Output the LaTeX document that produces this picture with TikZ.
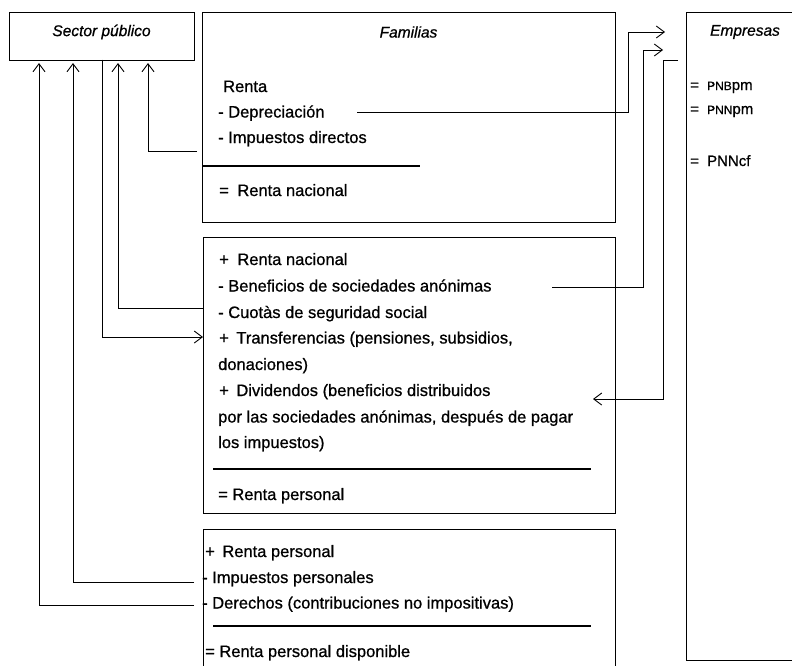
\documentclass[tikz,border=0pt]{standalone}
\usepackage{fontspec}
\setmainfont[FakeBold=0.8]{Liberation Sans}
\usetikzlibrary{arrows.meta}
\begin{document}
\begin{tikzpicture}[x=1pt,y=-1pt,
  box/.style={draw, line width=0.7pt, inner sep=0pt, anchor=north west},
  txt/.style={anchor=base west, inner sep=0pt, font=\fontsize{16.5}{20}\selectfont},
  etxt/.style={anchor=base west, inner sep=0pt, font=\fontsize{15}{18}\selectfont},
  ttl/.style={inner sep=0pt, font=\fontsize{15.5}{18}\selectfont\itshape},
  conn/.style={line width=0.9pt},
  arr/.style={conn, -{Straight Barb[length=8pt,width=12pt,line width=0.9pt]}},
  rulebar/.style={line width=2pt}]
\useasboundingbox (0,0) rectangle (792,665);

% boxes
\node[box, minimum width=185pt, minimum height=47.5pt] (sp) at (9,12) {};
\node[ttl] (spt) at (101.5,32) {Sector público};
\node[box, minimum width=413pt, minimum height=210pt] (fam) at (202,12) {};
\node[ttl] (famt) at (408.5,32) {Familias};
\node[box, minimum width=412pt, minimum height=276pt] (rp) at (203,237) {};
\draw[line width=0.7pt] (203,670) -- (203,529) -- (615,529) -- (615,670);
\draw[line width=0.7pt] (800,12) -- (686,12) -- (686,660) -- (800,660);
\node[ttl] (empt) at (745,32) {Empresas};

% Familias text
\node[txt] (f1) at (223,92) {Renta};
\node[txt] (f2) at (218,117.5) {- Depreciación};
\node[txt] (f3) at (218,143) {- Impuestos directos};
\draw[rulebar] (202,166) -- (420,166);
\node[txt] (f4) at (219,196) {=\hspace{4pt} Renta nacional};

% Renta personal box
\node[txt] (s1) at (219,265) {+\hspace{4pt} Renta nacional};
\node[txt] (s2) at (218,291.5) {- Beneficios de sociedades anónimas};
\node[txt] (s3) at (218,318) {- Cuotàs de seguridad social};
\node[txt] (s4) at (219,343.5) {+\hspace{3pt} Transferencias (pensiones, subsidios,};
\node[txt] (s5) at (218,370) {donaciones)};
\node[txt] (s6) at (219,396) {+\hspace{3pt} Dividendos (beneficios distribuidos};
\node[txt] (s7) at (218,422.5) {por las sociedades anónimas, después de pagar};
\node[txt] (s8) at (218,448) {los impuestos)};
\draw[rulebar] (213,469) -- (591,469);
\node[txt] (s9) at (218,500) {= Renta personal};

% Renta personal disponible box
\node[txt] (t1) at (205,557) {+\hspace{3pt} Renta personal};
\node[txt] (t2) at (202,583) {- Impuestos personales};
\node[txt] (t3) at (202,608.5) {- Derechos (contribuciones no impositivas)};
\draw[rulebar] (213,626) -- (591,626);
\node[txt] (t4) at (205,657) {= Renta personal disponible};

% Empresas text
\node[etxt] (e1) at (690,90) {=\hspace{4pt} {\fontsize{12}{14}\selectfont PNB}pm};
\node[etxt] (e2) at (690,114) {=\hspace{4pt} {\fontsize{12}{14}\selectfont PNN}pm};
\node[etxt] (e3) at (690,166) {=\hspace{4pt} PNNcf};

% connector end points
\coordinate (c1s) at (197,151);   \coordinate (c1e) at (148,63);
\coordinate (c2s) at (203,308);   \coordinate (c2e) at (118,63);
\coordinate (c3s) at (102,59.5);  \coordinate (c3e) at (203,337);
\coordinate (c4s) at (194,582);   \coordinate (c4e) at (73,63);
\coordinate (c5s) at (194,605);   \coordinate (c5e) at (39,63);
\coordinate (c6s) at (357,112);   \coordinate (c6m) at (628,112); \coordinate (c6e) at (665,32);
\coordinate (c7s) at (552,287);   \coordinate (c7m) at (643,287); \coordinate (c7e) at (663,50);
\coordinate (c8s) at (678,60);    \coordinate (c8m) at (663,60);  \coordinate (c8e) at (593,399);

\draw[arr] (c1s) -| (c1e);
\draw[arr] (c2s) -| (c2e);
\draw[arr] (c3s) |- (c3e);
\draw[arr] (c4s) -| (c4e);
\draw[arr] (c5s) -| (c5e);
\draw[arr] (c6s) -- (c6m) |- (c6e);
\draw[arr] (c7s) -- (c7m) |- (c7e);
\draw[arr] (c8s) -- (c8m) |- (c8e);
\end{tikzpicture}
\end{document}
